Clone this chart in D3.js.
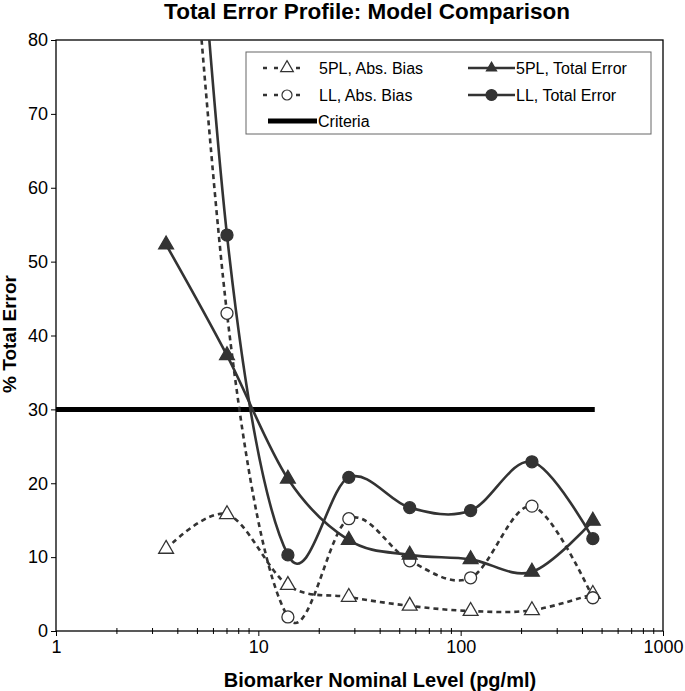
<!DOCTYPE html>
<html><head><meta charset="utf-8">
<script src="https://cdn.jsdelivr.net/npm/d3@7"></script>
<style>body{margin:0;background:#fff}svg{display:block;font-family:"Liberation Sans",Arial,sans-serif}</style>
</head><body><svg id="c" width="685" height="691"></svg>
<script>
const levels = [3.5, 7, 14, 28, 56, 112, 225, 450];
const pl5Bias = [11.1, 15.8, 6.2, 4.6, 3.4, 2.7, 2.8, 5.0];
const pl5Total = [52.3, 37.3, 20.6, 12.3, 10.3, 9.7, 8.0, 14.9];
const llBias = [142, 43.0, 1.9, 15.2, 9.5, 7.2, 16.9, 4.5];
const llTotal = [160, 53.6, 10.3, 20.8, 16.7, 16.3, 22.9, 12.5];
const criteriaX = [1, 460];
const criteriaY = 30;
const yTicks = [0, 10, 20, 30, 40, 50, 60, 70, 80];
const xTicks = [1, 10, 100, 1000];

const svg = d3.select("#c");
const L = 56, R = 663, T = 40, B = 631;
const x = d3.scaleLog().domain([1, 1000]).range([L, R]);
const y = d3.scaleLinear().domain([0, 80]).range([B, T]);
const col = "#333";
const narrow = "'Liberation Sans Narrow','Liberation Sans',Arial";

svg.append("defs").append("clipPath").attr("id", "clip")
  .append("rect").attr("x", L).attr("y", T).attr("width", R - L).attr("height", B - T);

// title
svg.append("text").attr("x", 367).attr("y", 19).attr("text-anchor", "middle")
  .style("font-family", narrow).style("font-weight", "bold").style("font-size", "22.5px")
  .text("Total Error Profile: Model Comparison");

// plot frame
svg.append("rect").attr("x", L).attr("y", T).attr("width", R - L).attr("height", B - T)
  .attr("fill", "none").attr("stroke", "#000").attr("stroke-width", 1.3);

// y axis
const yAxis = d3.axisLeft(y).tickValues(yTicks).tickSize(5).tickPadding(3);
const gy = svg.append("g").attr("transform", `translate(${L},0)`).call(yAxis);
gy.select(".domain").remove();
gy.selectAll("text").style("font-size", "18px").style("font-family", "'Liberation Sans',Arial");

// x axis
const minor = [];
for (let d = 1; d < 1000; d *= 10) for (let k = 2; k <= 9; k++) minor.push(d * k);
const gxm = svg.append("g");
gxm.selectAll("line").data(minor).join("line")
  .attr("x1", d => x(d)).attr("x2", d => x(d)).attr("y1", B - 3).attr("y2", B + 3)
  .attr("stroke", "#000").attr("stroke-width", 1);
const xAxis = d3.axisBottom(x).tickValues(xTicks).tickFormat(d3.format("d")).tickSize(5).tickPadding(4);
const gx = svg.append("g").attr("transform", `translate(0,${B})`).call(xAxis);
gx.select(".domain").remove();
gx.selectAll("text").style("font-size", "18px").style("font-family", "'Liberation Sans',Arial");

// axis titles
svg.append("text").attr("x", 380).attr("y", 687).attr("text-anchor", "middle")
  .style("font-family", narrow).style("font-weight", "bold").style("font-size", "20px")
  .text("Biomarker Nominal Level (pg/ml)");
svg.append("text").attr("transform", "translate(16,334) rotate(-90)").attr("text-anchor", "middle")
  .style("font-family", narrow).style("font-weight", "bold").style("font-size", "19px")
  .text("% Total Error");

const plot = svg.append("g").attr("clip-path", "url(#clip)");
const line = d3.line().x(d => x(d[0])).y(d => y(d[1])).curve(d3.curveCatmullRom.alpha(0));

// criteria
plot.append("line").attr("x1", x(criteriaX[0])).attr("x2", x(criteriaX[1]))
  .attr("y1", y(criteriaY)).attr("y2", y(criteriaY)).attr("stroke", "#000").attr("stroke-width", 5);

const series = [
  {vals: pl5Bias, dash: "5,4", marker: "tri", fill: "#fff"},
  {vals: llBias, dash: "5,4", marker: "circ", fill: "#fff"},
  {vals: pl5Total, dash: null, marker: "tri", fill: col},
  {vals: llTotal, dash: null, marker: "circ", fill: col}
];
series.forEach(s => {
  const pts = levels.map((l, i) => [l, s.vals[i]]);
  plot.append("path").datum(pts).attr("d", line).attr("fill", "none")
    .attr("stroke", col).attr("stroke-width", 2.6).attr("stroke-dasharray", s.dash);
});
function marker(g, m, fill, cx, cy) {
  if (m === "tri") {
    g.append("path").attr("d", d3.symbol(d3.symbolTriangle, 95)()).attr("transform", `translate(${cx},${cy})`)
      .attr("fill", fill).attr("stroke", col).attr("stroke-width", 1.3);
  } else {
    g.append("circle").attr("cx", cx).attr("cy", cy).attr("r", 6)
      .attr("fill", fill).attr("stroke", col).attr("stroke-width", 1.3);
  }
}
series.forEach(s => {
  levels.forEach((l, i) => {
    if (s.vals[i] <= 80) marker(plot, s.marker, s.fill, x(l), y(s.vals[i]));
  });
});

// legend
const lg = svg.append("g");
lg.append("rect").attr("x", 246).attr("y", 52).attr("width", 405).attr("height", 82)
  .attr("fill", "#fff").attr("stroke", "#666").attr("stroke-width", 1);
const items = [
  {label: "5PL, Abs. Bias", x0: 263, x1: 300, y0: 68, dash: "4,7", m: "tri", fill: "#fff"},
  {label: "5PL, Total Error", x0: 468, x1: 515, y0: 68, dash: null, m: "tri", fill: col},
  {label: "LL, Abs. Bias", x0: 263, x1: 300, y0: 95, dash: "4,7", m: "circ", fill: "#fff"},
  {label: "LL, Total Error", x0: 468, x1: 515, y0: 95, dash: null, m: "circ", fill: col},
  {label: "Criteria", x0: 268, x1: 317, y0: 121, dash: null, m: null, fill: null}
];
items.forEach(it => {
  lg.append("line").attr("x1", it.x0).attr("x2", it.x1).attr("y1", it.y0).attr("y2", it.y0)
    .attr("stroke", it.m ? col : "#000").attr("stroke-width", it.m ? 2.4 : 5).attr("stroke-dasharray", it.dash);
  const cx = it.m === "tri" && it.fill === "#fff" ? 287 : (it.x0 + it.x1) / 2;
  if (it.m) {
    if (it.m === "tri") lg.append("path").attr("d", d3.symbol(d3.symbolTriangle, it.fill === "#fff" ? 70 : 45)())
      .attr("transform", `translate(${cx},${it.y0})`).attr("fill", it.fill).attr("stroke", col).attr("stroke-width", 1.2);
    else lg.append("circle").attr("cx", it.fill === "#fff" ? 287 : cx).attr("cy", it.y0).attr("r", it.fill === "#fff" ? 5 : 5.5)
      .attr("fill", it.fill).attr("stroke", col).attr("stroke-width", 1.2);
  }
  lg.append("text").attr("x", it.m && it.fill === "#fff" ? 319 : it.x1 + 1).attr("y", it.y0 + 6).style("font-size", "16px")
    .style("font-family", "'Liberation Sans',Arial").text(it.label);
});
</script></body></html>
